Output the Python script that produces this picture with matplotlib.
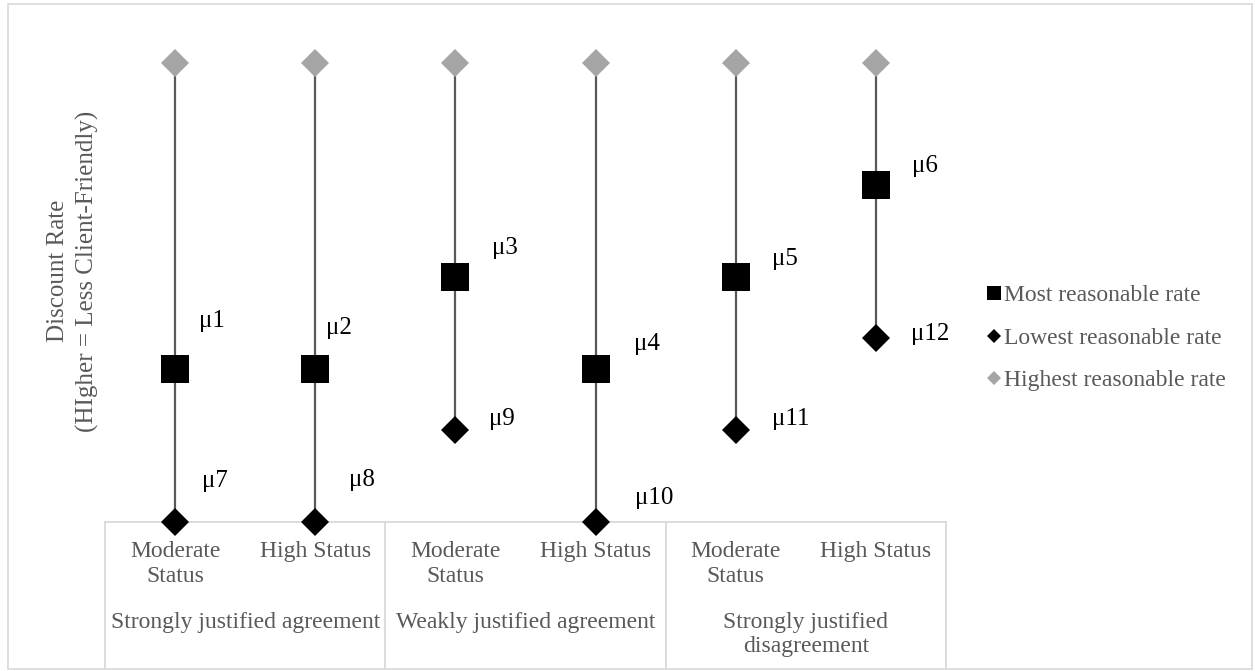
#!/usr/bin/env python3
import numpy as np
import matplotlib
matplotlib.use("Agg")
import matplotlib.pyplot as plt
from matplotlib.patches import Rectangle
from matplotlib.lines import Line2D

conditions = ['Moderate\nStatus', 'High Status', 'Moderate\nStatus', 'High Status', 'Moderate\nStatus', 'High Status']
groups = ['Strongly justified agreement', 'Weakly justified agreement', 'Strongly justified\ndisagreement']
highest = [15, 15, 15, 15, 15, 15]
most = [5, 5, 8, 5, 8, 11]
lowest = [0, 0, 3, 0, 3, 6]
most_labels = ['μ1', 'μ2', 'μ3', 'μ4', 'μ5', 'μ6']
low_labels = ['μ7', 'μ8', 'μ9', 'μ10', 'μ11', 'μ12']

# label offsets in pixels (right, up) from the marker
most_off = [(24, 48), (11, 41), (37, 29), (38, 25), (36, 18), (36, 19)]
low_off = [(27, 41), (34, 42), (34, 11), (39, 24), (36, 11), (35, 4)]

W, H = 1255, 671
FONT = 'Liberation Serif'
GRAY_TXT = '#595959'
plt.rcParams['font.family'] = [FONT, 'DejaVu Serif']

fig = plt.figure(figsize=(W / 100, H / 100), dpi=100)
fig.patches.append(Rectangle((8 / W, 2 / H), (W - 11) / W, (H - 6) / H,
                             transform=fig.transFigure, fill=False,
                             edgecolor='#d9d9d9', lw=1.2))

x0, x1, ybot, ytop = 105, 946, 522, 40
axh = ybot - ytop
ax = fig.add_axes([x0 / W, (H - ybot) / H, (x1 - x0) / W, axh / H])
x = np.arange(len(conditions))
ax.set_xlim(-0.5, len(conditions) - 0.5)
ax.set_ylim(0, 15 * axh / (521 - 62))
ax.axis('off')

ax.vlines(x, lowest, highest, color='#595959', lw=1.6, zorder=1)
ax.plot(x, highest, 'D', color='#a5a5a5', ms=14.5, mew=0, clip_on=False, zorder=2)
ax.plot(x, lowest, 'D', color='black', ms=14.5, mew=0, clip_on=False, zorder=3)
ax.plot(x, most, 's', color='black', ms=20, mew=0, clip_on=False, zorder=3)

for i in range(len(x)):
    dx, dy = most_off[i]
    ax.annotate(most_labels[i], (x[i], most[i]), xytext=(dx * 0.72, dy * 0.72),
                textcoords='offset points', ha='left', va='center', fontsize=18, color='black')
    dx, dy = low_off[i]
    ax.annotate(low_labels[i], (x[i], lowest[i]), xytext=(dx * 0.72, dy * 0.72),
                textcoords='offset points', ha='left', va='center', fontsize=18, color='black')

# category axis box
axc = '#d9d9d9'
ax.add_line(Line2D([-0.5, len(x) - 0.5], [0, 0], color=axc, lw=1.3, clip_on=False, zorder=0))
ax_bottom_frac = (H - 669) / H
for b in [-0.5, 1.5, 3.5, 5.5]:
    fx = fig.transFigure.inverted().transform(ax.transData.transform((b, 0)))[0]
    fig.add_artist(Line2D([fx, fx], [ax_bottom_frac, (H - ybot) / H], color=axc, lw=1.3))

for i, c in enumerate(conditions):
    ax.text(x[i], -19 / axh, c, transform=ax.get_xaxis_transform(), ha='center', va='top',
            fontsize=17, color=GRAY_TXT, linespacing=1.28)

for g, name in enumerate(groups):
    ax.text(2 * g + 0.5, -90 / axh, name, transform=ax.get_xaxis_transform(),
            ha='center', va='top', fontsize=17, color=GRAY_TXT, linespacing=1.19)

fig.text(73 / W, 1 - 271 / H, 'Discount Rate\n(HIgher = Less Client-Friendly)', rotation=90,
         ha='center', va='center', fontsize=18, color=GRAY_TXT, linespacing=1.35)

handles = [
    Line2D([], [], ls='', marker='s', color='black', ms=10.5, mew=0),
    Line2D([], [], ls='', marker='D', color='black', ms=7.5, mew=0),
    Line2D([], [], ls='', marker='D', color='#a5a5a5', ms=7.5, mew=0),
]
leg = fig.legend(handles, ['Most reasonable rate', 'Lowest reasonable rate', 'Highest reasonable rate'],
                 loc='center left', bbox_to_anchor=(987 / W, 1 - 338 / H), frameon=False,
                 fontsize=17, handlelength=0.6, handletextpad=0.1, labelspacing=0.88,
                 borderaxespad=0, borderpad=0)
for t in leg.get_texts():
    t.set_color(GRAY_TXT)

fig.savefig('out.png', dpi=100)
